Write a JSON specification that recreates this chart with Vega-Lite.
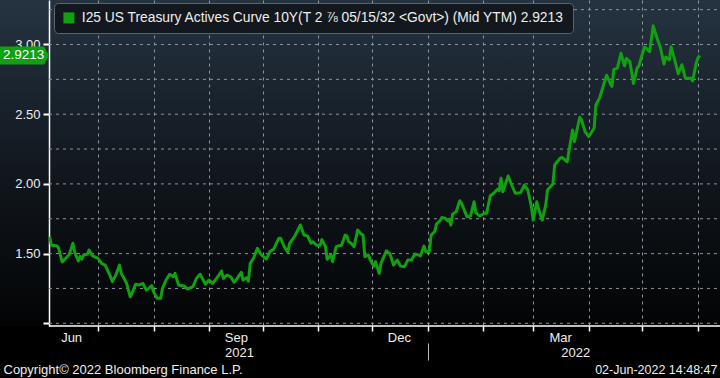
{
  "$schema": "https://vega.github.io/schema/vega-lite/v6.json",
  "width": 720,
  "height": 326,
  "autosize": {"type": "none"},
  "padding": {"left": 0, "top": 0, "right": 0, "bottom": 52},
  "background": "#000000",
  "config": {
    "font": "Liberation Sans",
    "view": {"stroke": null, "fill": {"gradient": "linear", "x1": 0, "y1": 0, "x2": 0, "y2": 1, "stops": [{"offset": 0, "color": "#253341"}, {"offset": 0.55, "color": "#10161c"}, {"offset": 1, "color": "#030405"}]}}
  },
  "datasets": {
    "yields": [
      {"date": "2021-06-04", "yield": 1.621}, {"date": "2021-06-05", "yield": 1.56}, {"date": "2021-06-08", "yield": 1.557}, {"date": "2021-06-09", "yield": 1.54},
      {"date": "2021-06-11", "yield": 1.44}, {"date": "2021-06-14", "yield": 1.48}, {"date": "2021-06-15", "yield": 1.495}, {"date": "2021-06-17", "yield": 1.574},
      {"date": "2021-06-18", "yield": 1.51}, {"date": "2021-06-20", "yield": 1.447}, {"date": "2021-06-21", "yield": 1.48}, {"date": "2021-06-22", "yield": 1.46},
      {"date": "2021-06-23", "yield": 1.49}, {"date": "2021-06-25", "yield": 1.495}, {"date": "2021-06-26", "yield": 1.526}, {"date": "2021-06-28", "yield": 1.483},
      {"date": "2021-07-01", "yield": 1.466}, {"date": "2021-07-03", "yield": 1.43}, {"date": "2021-07-05", "yield": 1.418}, {"date": "2021-07-08", "yield": 1.334},
      {"date": "2021-07-09", "yield": 1.30}, {"date": "2021-07-11", "yield": 1.347}, {"date": "2021-07-13", "yield": 1.418}, {"date": "2021-07-14", "yield": 1.358},
      {"date": "2021-07-16", "yield": 1.31}, {"date": "2021-07-17", "yield": 1.287}, {"date": "2021-07-19", "yield": 1.19}, {"date": "2021-07-20", "yield": 1.215},
      {"date": "2021-07-22", "yield": 1.28}, {"date": "2021-07-24", "yield": 1.275}, {"date": "2021-07-26", "yield": 1.287}, {"date": "2021-07-28", "yield": 1.239},
      {"date": "2021-07-29", "yield": 1.246}, {"date": "2021-07-31", "yield": 1.27}, {"date": "2021-08-01", "yield": 1.227}, {"date": "2021-08-03", "yield": 1.18},
      {"date": "2021-08-05", "yield": 1.18}, {"date": "2021-08-06", "yield": 1.25}, {"date": "2021-08-08", "yield": 1.31}, {"date": "2021-08-10", "yield": 1.352},
      {"date": "2021-08-12", "yield": 1.334}, {"date": "2021-08-13", "yield": 1.358}, {"date": "2021-08-15", "yield": 1.275}, {"date": "2021-08-18", "yield": 1.268},
      {"date": "2021-08-20", "yield": 1.246}, {"date": "2021-08-23", "yield": 1.263}, {"date": "2021-08-25", "yield": 1.323}, {"date": "2021-08-27", "yield": 1.352},
      {"date": "2021-08-30", "yield": 1.28}, {"date": "2021-09-01", "yield": 1.31}, {"date": "2021-09-03", "yield": 1.287}, {"date": "2021-09-05", "yield": 1.318},
      {"date": "2021-09-08", "yield": 1.375}, {"date": "2021-09-09", "yield": 1.323}, {"date": "2021-09-11", "yield": 1.346}, {"date": "2021-09-13", "yield": 1.334},
      {"date": "2021-09-15", "yield": 1.294}, {"date": "2021-09-16", "yield": 1.31}, {"date": "2021-09-19", "yield": 1.366}, {"date": "2021-09-20", "yield": 1.31},
      {"date": "2021-09-22", "yield": 1.327}, {"date": "2021-09-23", "yield": 1.303}, {"date": "2021-09-24", "yield": 1.43}, {"date": "2021-09-26", "yield": 1.47},
      {"date": "2021-09-28", "yield": 1.538}, {"date": "2021-09-30", "yield": 1.495}, {"date": "2021-10-03", "yield": 1.461}, {"date": "2021-10-05", "yield": 1.514},
      {"date": "2021-10-07", "yield": 1.53}, {"date": "2021-10-10", "yield": 1.61}, {"date": "2021-10-11", "yield": 1.61}, {"date": "2021-10-13", "yield": 1.55},
      {"date": "2021-10-15", "yield": 1.51}, {"date": "2021-10-16", "yield": 1.574}, {"date": "2021-10-19", "yield": 1.628}, {"date": "2021-10-22", "yield": 1.705},
      {"date": "2021-10-24", "yield": 1.633}, {"date": "2021-10-26", "yield": 1.626}, {"date": "2021-10-28", "yield": 1.574}, {"date": "2021-10-29", "yield": 1.585},
      {"date": "2021-10-31", "yield": 1.56}, {"date": "2021-11-02", "yield": 1.56}, {"date": "2021-11-03", "yield": 1.60}, {"date": "2021-11-05", "yield": 1.55},
      {"date": "2021-11-06", "yield": 1.459}, {"date": "2021-11-08", "yield": 1.49}, {"date": "2021-11-09", "yield": 1.442}, {"date": "2021-11-11", "yield": 1.55},
      {"date": "2021-11-12", "yield": 1.554}, {"date": "2021-11-14", "yield": 1.56}, {"date": "2021-11-16", "yield": 1.633}, {"date": "2021-11-17", "yield": 1.626},
      {"date": "2021-11-18", "yield": 1.585}, {"date": "2021-11-19", "yield": 1.578}, {"date": "2021-11-21", "yield": 1.55}, {"date": "2021-11-23", "yield": 1.67},
      {"date": "2021-11-25", "yield": 1.641}, {"date": "2021-11-26", "yield": 1.633}, {"date": "2021-11-27", "yield": 1.478}, {"date": "2021-11-29", "yield": 1.49},
      {"date": "2021-11-30", "yield": 1.454}, {"date": "2021-12-02", "yield": 1.41}, {"date": "2021-12-03", "yield": 1.442}, {"date": "2021-12-05", "yield": 1.358},
      {"date": "2021-12-06", "yield": 1.43}, {"date": "2021-12-09", "yield": 1.52}, {"date": "2021-12-11", "yield": 1.50}, {"date": "2021-12-13", "yield": 1.418},
      {"date": "2021-12-15", "yield": 1.454}, {"date": "2021-12-17", "yield": 1.41}, {"date": "2021-12-19", "yield": 1.405}, {"date": "2021-12-21", "yield": 1.454},
      {"date": "2021-12-23", "yield": 1.454}, {"date": "2021-12-25", "yield": 1.497}, {"date": "2021-12-27", "yield": 1.49}, {"date": "2021-12-28", "yield": 1.483},
      {"date": "2021-12-30", "yield": 1.554}, {"date": "2021-12-31", "yield": 1.514}, {"date": "2022-01-02", "yield": 1.514}, {"date": "2022-01-03", "yield": 1.633},
      {"date": "2022-01-05", "yield": 1.657}, {"date": "2022-01-06", "yield": 1.712}, {"date": "2022-01-08", "yield": 1.736}, {"date": "2022-01-09", "yield": 1.76},
      {"date": "2022-01-11", "yield": 1.753}, {"date": "2022-01-12", "yield": 1.736}, {"date": "2022-01-13", "yield": 1.746}, {"date": "2022-01-14", "yield": 1.705},
      {"date": "2022-01-15", "yield": 1.784}, {"date": "2022-01-17", "yield": 1.80}, {"date": "2022-01-19", "yield": 1.879}, {"date": "2022-01-20", "yield": 1.86},
      {"date": "2022-01-23", "yield": 1.765}, {"date": "2022-01-25", "yield": 1.77}, {"date": "2022-01-27", "yield": 1.872}, {"date": "2022-01-28", "yield": 1.793},
      {"date": "2022-01-30", "yield": 1.77}, {"date": "2022-02-02", "yield": 1.79}, {"date": "2022-02-03", "yield": 1.79}, {"date": "2022-02-05", "yield": 1.913},
      {"date": "2022-02-07", "yield": 1.933}, {"date": "2022-02-09", "yield": 1.961}, {"date": "2022-02-10", "yield": 1.951}, {"date": "2022-02-11", "yield": 2.04},
      {"date": "2022-02-12", "yield": 1.944}, {"date": "2022-02-15", "yield": 2.057}, {"date": "2022-02-17", "yield": 1.992}, {"date": "2022-02-19", "yield": 1.933},
      {"date": "2022-02-22", "yield": 1.937}, {"date": "2022-02-24", "yield": 1.992}, {"date": "2022-02-26", "yield": 1.956}, {"date": "2022-02-28", "yield": 1.836},
      {"date": "2022-03-01", "yield": 1.74}, {"date": "2022-03-03", "yield": 1.872}, {"date": "2022-03-04", "yield": 1.818}, {"date": "2022-03-06", "yield": 1.74},
      {"date": "2022-03-08", "yield": 1.849}, {"date": "2022-03-09", "yield": 1.956}, {"date": "2022-03-12", "yield": 2.0}, {"date": "2022-03-13", "yield": 2.136},
      {"date": "2022-03-16", "yield": 2.184}, {"date": "2022-03-17", "yield": 2.19}, {"date": "2022-03-20", "yield": 2.159}, {"date": "2022-03-22", "yield": 2.315},
      {"date": "2022-03-23", "yield": 2.387}, {"date": "2022-03-24", "yield": 2.303}, {"date": "2022-03-27", "yield": 2.478}, {"date": "2022-03-28", "yield": 2.458},
      {"date": "2022-03-30", "yield": 2.374}, {"date": "2022-04-01", "yield": 2.339}, {"date": "2022-04-04", "yield": 2.399}, {"date": "2022-04-05", "yield": 2.566},
      {"date": "2022-04-07", "yield": 2.614}, {"date": "2022-04-09", "yield": 2.697}, {"date": "2022-04-11", "yield": 2.78}, {"date": "2022-04-13", "yield": 2.72},
      {"date": "2022-04-14", "yield": 2.70}, {"date": "2022-04-15", "yield": 2.822}, {"date": "2022-04-17", "yield": 2.83}, {"date": "2022-04-19", "yield": 2.937},
      {"date": "2022-04-21", "yield": 2.846}, {"date": "2022-04-22", "yield": 2.90}, {"date": "2022-04-24", "yield": 2.877}, {"date": "2022-04-26", "yield": 2.72},
      {"date": "2022-04-28", "yield": 2.83}, {"date": "2022-04-29", "yield": 2.846}, {"date": "2022-05-02", "yield": 2.98}, {"date": "2022-05-03", "yield": 2.975},
      {"date": "2022-05-05", "yield": 2.948}, {"date": "2022-05-07", "yield": 3.134}, {"date": "2022-05-09", "yield": 3.05}, {"date": "2022-05-11", "yield": 2.98},
      {"date": "2022-05-13", "yield": 2.86}, {"date": "2022-05-14", "yield": 2.91}, {"date": "2022-05-16", "yield": 2.89}, {"date": "2022-05-17", "yield": 2.983},
      {"date": "2022-05-19", "yield": 2.89}, {"date": "2022-05-21", "yield": 2.79}, {"date": "2022-05-23", "yield": 2.855}, {"date": "2022-05-25", "yield": 2.757},
      {"date": "2022-05-28", "yield": 2.757}, {"date": "2022-05-29", "yield": 2.738}, {"date": "2022-05-31", "yield": 2.865}, {"date": "2022-06-01", "yield": 2.905},
      {"date": "2022-06-02", "yield": 2.9213}
    ],
    "levels": [{"level": 1.0}, {"level": 1.25}, {"level": 1.5}, {"level": 1.75}, {"level": 2.0}, {"level": 2.25}, {"level": 2.5}, {"level": 2.75}, {"level": 3.0}, {"level": 3.25}],
    "last": [{"date": "2022-06-02", "yield": 2.9213, "label": "2.9213"}]
  },
  "resolve": {"axis": {"x": "independent", "y": "independent"}},
  "layer": [
    {
      "data": {"name": "levels"},
      "mark": {"type": "rule", "color": "#8e959c", "strokeDash": [3, 4], "strokeWidth": 1},
      "encoding": {
        "x": {"datum": {"year": 2021, "month": 6, "date": 3, "hours": 15, "utc": true}, "type": "temporal",
              "scale": {"type": "utc", "domain": [{"year": 2021, "month": 5, "date": 7, "hours": 7, "utc": true}, {"year": 2022, "month": 6, "date": 13, "hours": 7, "utc": true}]},
              "axis": {"orient": "bottom", "values": [{"year": 2021, "month": 6, "date": 16, "utc": true}, {"year": 2021, "month": 9, "date": 16, "utc": true}, {"year": 2021, "month": 12, "date": 16, "utc": true}, {"year": 2022, "month": 3, "date": 16, "utc": true}],
                       "labelExpr": "utcFormat(datum.value, '%b')", "grid": false, "ticks": false, "domain": false, "labelPadding": 5, "labelColor": "#eeeeee", "labelFontSize": 13,
                       "title": "Copyright© 2022 Bloomberg Finance L.P.", "titleX": 3, "titleY": 43, "titleAlign": "left", "titleBaseline": "middle", "titleFontWeight": "normal", "titleFontSize": 13, "titleColor": "#eeeeee"}},
        "x2": {"datum": {"year": 2022, "month": 6, "date": 13, "hours": 7, "utc": true}},
        "y": {"field": "level", "type": "quantitative", "scale": {"domain": [0.9806, 3.3192], "nice": false, "zero": false}, "axis": null}
      }
    },
    {
      "data": {"values": [{}]},
      "mark": {"type": "rule", "color": "#ffffff", "strokeWidth": 1.5},
      "encoding": {
        "x": {"datum": {"year": 2021, "month": 6, "date": 3, "hours": 15, "utc": true}, "type": "temporal",
              "scale": {"type": "utc", "domain": [{"year": 2021, "month": 5, "date": 7, "hours": 7, "utc": true}, {"year": 2022, "month": 6, "date": 13, "hours": 7, "utc": true}]},
              "axis": {"orient": "bottom", "values": [{"year": 2021, "month": 9, "date": 17, "hours": 18, "utc": true}, {"year": 2022, "month": 3, "date": 24, "hours": 12, "utc": true}],
                       "labelExpr": "utcFormat(datum.value, '%Y')", "grid": false, "ticks": false, "domain": false, "labelPadding": 20, "labelColor": "#eeeeee", "labelFontSize": 13,
                       "title": "02-Jun-2022 14:48:47", "titleX": 717, "titleY": 43, "titleAlign": "right", "titleBaseline": "middle", "titleFontWeight": "normal", "titleFontSize": 12.5, "titleColor": "#eeeeee"}},
        "x2": {"datum": {"year": 2022, "month": 6, "date": 13, "hours": 7, "utc": true}},
        "y": {"datum": 0.9806, "type": "quantitative", "scale": {"domain": [0.9806, 3.3192], "nice": false, "zero": false}, "axis": null}
      }
    },
    {
      "data": {"name": "yields"},
      "mark": {"type": "line", "color": "#10a010", "strokeWidth": 3, "strokeJoin": "round"},
      "encoding": {
        "x": {"field": "date", "type": "temporal",
              "scale": {"type": "utc", "domain": [{"year": 2021, "month": 5, "date": 7, "hours": 7, "utc": true}, {"year": 2022, "month": 6, "date": 13, "hours": 7, "utc": true}]},
              "axis": {"orient": "bottom", "values": [{"year": 2021, "month": 7, "date": 1, "utc": true}, {"year": 2021, "month": 8, "date": 1, "utc": true}, {"year": 2021, "month": 9, "date": 1, "utc": true}, {"year": 2021, "month": 10, "date": 1, "utc": true}, {"year": 2021, "month": 11, "date": 1, "utc": true}, {"year": 2021, "month": 12, "date": 1, "utc": true}, {"year": 2022, "month": 1, "date": 1, "utc": true}, {"year": 2022, "month": 2, "date": 1, "utc": true}, {"year": 2022, "month": 3, "date": 1, "utc": true}, {"year": 2022, "month": 4, "date": 1, "utc": true}, {"year": 2022, "month": 5, "date": 1, "utc": true}, {"year": 2022, "month": 6, "date": 1, "utc": true}],
                       "grid": true, "gridColor": "#8e959c", "gridDash": [3, 4], "gridWidth": 1, "ticks": true, "tickSize": 5, "tickColor": "#ffffff", "tickWidth": 1.5, "labels": false, "domain": false, "title": null}},
        "y": {"field": "yield", "type": "quantitative", "scale": {"domain": [0.9806, 3.3192], "nice": false, "zero": false},
              "axis": {"orient": "left", "offset": -49, "values": [1, 1.25, 1.5, 1.75, 2, 2.25, 2.5, 2.75, 3, 3.25],
                       "labelExpr": "(datum.value == 1.5 || datum.value == 2 || datum.value == 2.5 || datum.value == 3) ? format(datum.value, '.2f') : ''",
                       "grid": false, "domain": true, "domainColor": "#ffffff", "domainWidth": 1.5, "ticks": true, "tickColor": "#ffffff", "tickSize": 6, "tickWidth": 2,
                       "tickOpacity": {"condition": {"test": "datum.value * 2 == floor(datum.value * 2)", "value": 1}, "value": 0},
                       "labelColor": "#eeeeee", "labelFontSize": 13, "labelPadding": 3, "title": null}}
      }
    },
    {
      "data": {"name": "last"},
      "mark": {"type": "point", "filled": true, "shape": "M0,-0.37L1.8,-0.37L2,0L1.8,0.37L0,0.37Z", "size": 2401, "opacity": 1, "strokeWidth": 0},
      "encoding": {
        "x": {"datum": {"year": 2021, "month": 5, "date": 7, "hours": 7, "utc": true}, "type": "temporal",
              "scale": {"type": "utc", "domain": [{"year": 2021, "month": 5, "date": 7, "hours": 7, "utc": true}, {"year": 2022, "month": 6, "date": 13, "hours": 7, "utc": true}]},
              "axis": {"orient": "bottom", "offset": 17, "values": [{"year": 2022, "month": 1, "date": 1, "utc": true}], "labels": false, "grid": false, "domain": false, "ticks": true, "tickSize": 17, "tickColor": "#bbbbbb", "tickWidth": 1, "title": null}},
        "y": {"field": "yield", "type": "quantitative", "scale": {"domain": [0.9806, 3.3192], "nice": false, "zero": false}, "axis": null},
        "color": {"datum": "I25 US Treasury Actives Curve 10Y(T 2 ⅞ 05/15/32 <Govt>) (Mid YTM) 2.9213", "type": "nominal",
                  "scale": {"range": ["#10a010"]},
                  "legend": {"orient": "none", "legendX": 54, "legendY": 3, "title": null, "fillColor": "#12181e", "strokeColor": "#5c6369", "cornerRadius": 4, "padding": 8,
                             "symbolType": "square", "symbolSize": 121, "symbolStrokeWidth": 0, "labelColor": "#eeeeee", "labelFontSize": 13.8, "labelLimit": 1000, "labelOffset": 6}}
      }
    },
    {
      "data": {"name": "last"},
      "mark": {"type": "text", "align": "left", "baseline": "middle", "dx": 3, "color": "#ffffff", "fontSize": 13.5},
      "encoding": {
        "x": {"datum": {"year": 2021, "month": 5, "date": 7, "hours": 7, "utc": true}, "type": "temporal",
              "scale": {"type": "utc", "domain": [{"year": 2021, "month": 5, "date": 7, "hours": 7, "utc": true}, {"year": 2022, "month": 6, "date": 13, "hours": 7, "utc": true}]},
              "axis": null},
        "y": {"field": "yield", "type": "quantitative", "scale": {"domain": [0.9806, 3.3192], "nice": false, "zero": false}, "axis": null},
        "text": {"field": "label"}
      }
    }
  ]
}
